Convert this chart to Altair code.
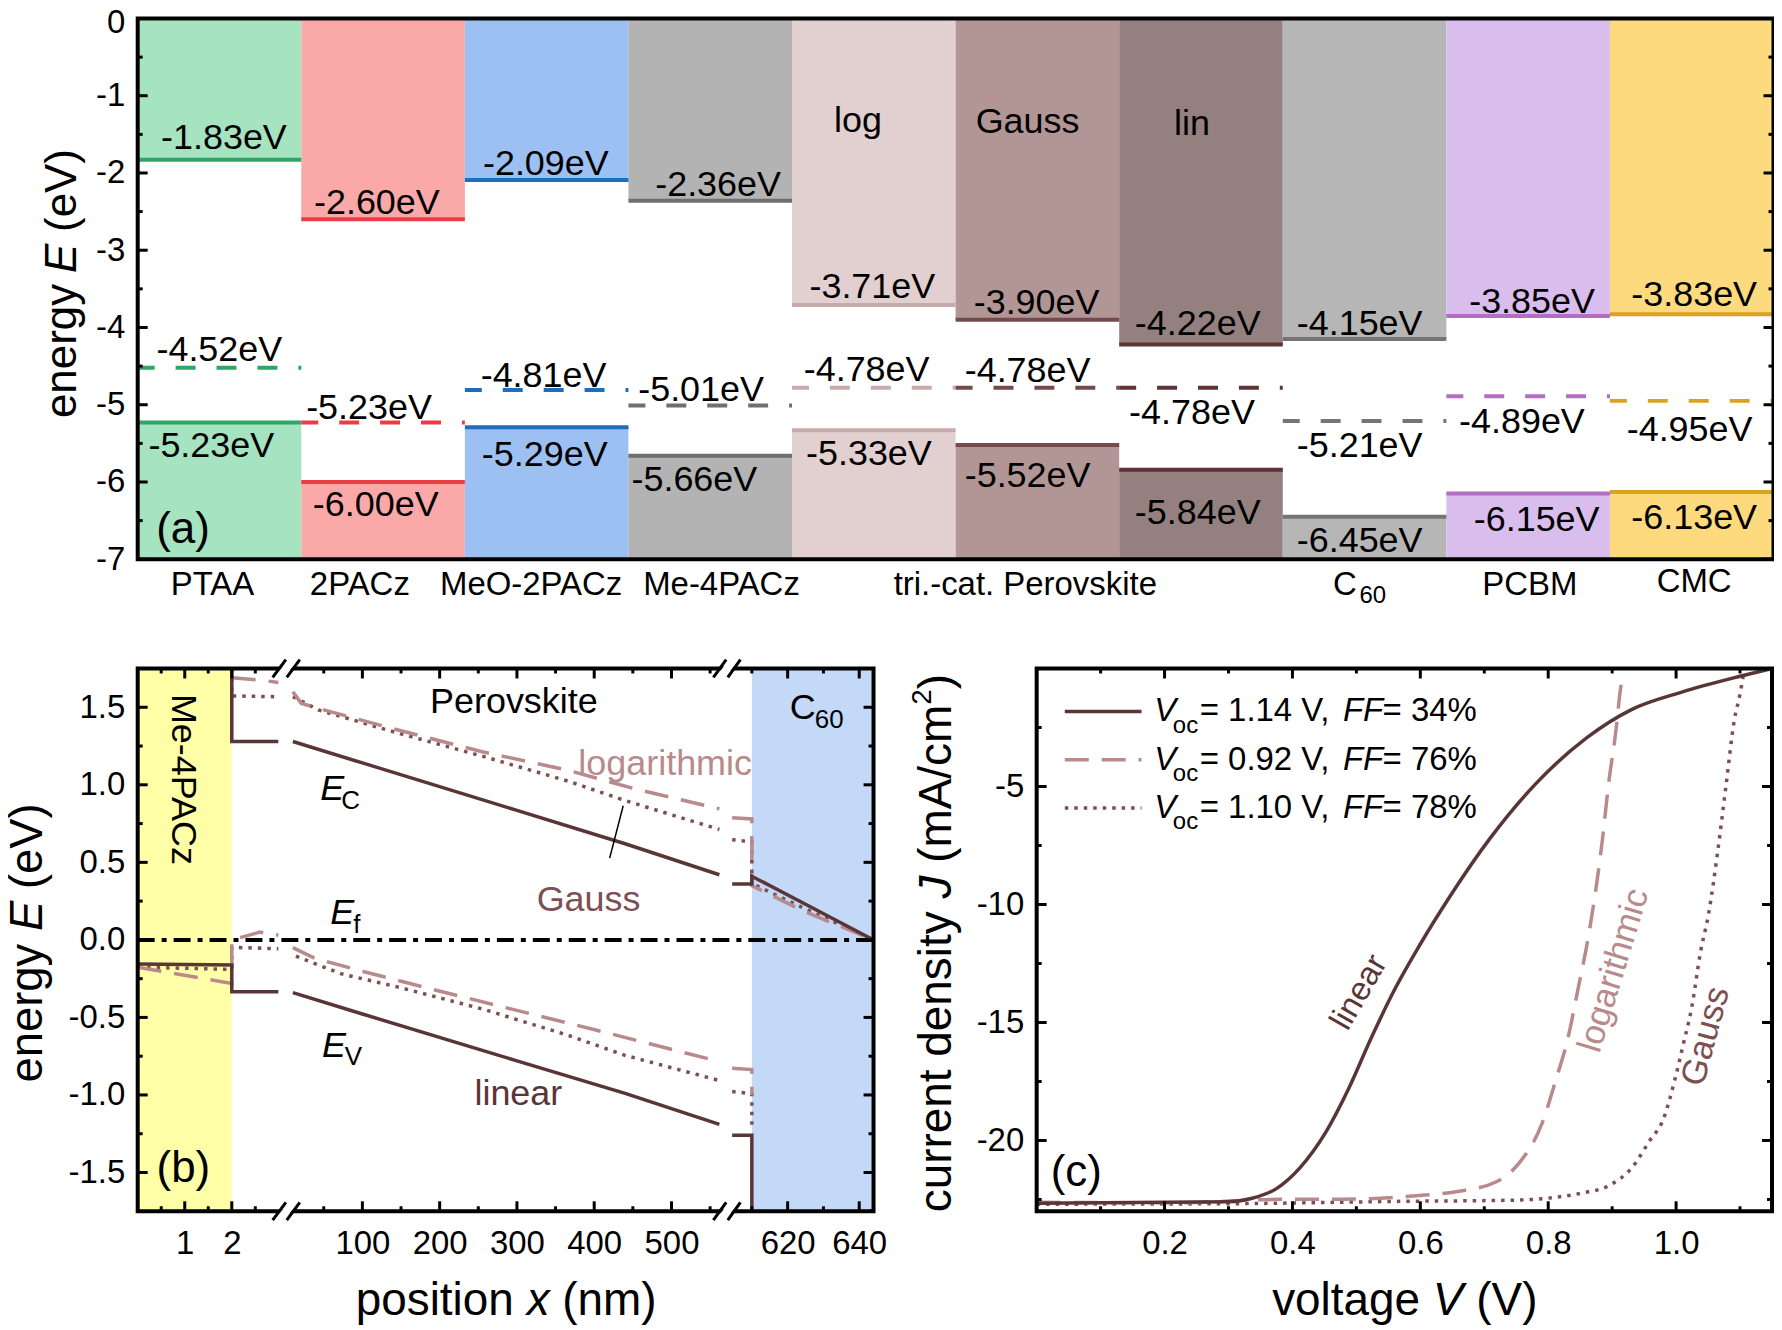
import altair as alt
import pandas as pd

FONT = "Liberation Sans"

# ---------- panel (a) data ----------
MATERIALS = ["PTAA", "2PACz", "MeO-2PACz", "Me-4PACz", "log", "Gauss", "lin", "C60", "PCBM", "CMC"]
LUMO = [-1.83, -2.60, -2.09, -2.36, -3.71, -3.90, -4.22, -4.15, -3.85, -3.83]
FERMI = [-4.52, -5.23, -4.81, -5.01, -4.78, -4.78, -4.78, -5.21, -4.89, -4.95]
HOMO = [-5.23, -6.00, -5.29, -5.66, -5.33, -5.52, -5.84, -6.45, -6.15, -6.13]
FILL = ["#a6e3c0", "#faa8a8", "#9bc0f1", "#b3b3b3", "#e2d0d1", "#b29696", "#958080", "#b6b6b6", "#d9bded", "#fdda7e"]
LINE = ["#2fa566", "#ee3c44", "#1f6dbd", "#6f6f6f", "#c8aaad", "#744a4c", "#5c3436", "#757575", "#b26fc2", "#d9a21f"]

L_X = [.527, 1.462, 2.495, 3.548, 4.491, 5.495, 6.480, 7.470, 8.524, 9.515]
L_Y = [-1.542, -2.394, -1.880, -2.159, -3.480, -3.686, -3.950, -3.950, -3.671, -3.583]
F_X = [.499, 1.414, 2.481, 3.444, 4.456, 5.440, 6.445, 7.470, 8.462, 9.487]
F_Y = [-4.288, -5.037, -4.626, -4.816, -4.552, -4.567, -5.110, -5.536, -5.228, -5.330]
H_X = [.450, 1.455, 2.488, 3.403, 4.470, 5.440, 6.480, 7.470, 8.552, 9.515]
H_Y = [-5.536, -6.300, -5.653, -5.976, -5.639, -5.918, -6.402, -6.770, -6.490, -6.461]

CAT_TEXT = ["PTAA", "2PACz", "MeO-2PACz", "Me-4PACz", "tri.-cat. Perovskite", "C", "PCBM", "CMC"]
CAT_X = [.457, 1.358, 2.405, 3.569, 5.426, 7.38, 8.51, 9.515]
CAT_Y = [-7.33, -7.33, -7.33, -7.33, -7.33, -7.33, -7.33, -7.30]

# ---------- panel (b) data: [(x nm, E eV) ...] by continuous piece ----------
EC_LIN = [[(2, 1.75), (2, 1.28), (2.99, 1.28)],
          [(10, 1.279), (100, 1.141), (300, .835), (440, .62), (562, .42)],
          [(604.5, .36), (610, .36), (610, .41), (625, .23), (644, 0)]]
EV_LIN = [[(0, -.156), (2, -.162), (2, -.335), (2.99, -.335)],
          [(10, -.34), (100, -.478), (300, -.78), (440, -.99), (562, -1.19)],
          [(604.5, -1.26), (610, -1.26), (610, -1.75)]]
EC_LOG = [[(2, 1.69), (2.6, 1.676), (2.99, 1.66)],
          [(10, 1.60), (21, 1.525), (50, 1.483), (145, 1.355), (255, 1.213), (366, 1.094), (454, .972), (562, .845)],
          [(604.5, .788), (610, .78), (610, .349), (625, .18), (644, 0)]]
EV_LOG = [[(0, -.176), (2, -.281), (2, 0.0), (2.6, .05), (2.99, .03)],
          [(10, -.05), (39, -.12), (101, -.204), (190, -.318), (292, -.445), (402, -.581), (562, -.785)],
          [(604.5, -.828), (610, -.836), (610, -1.0)]]
EC_GAU = [[(2, 1.75), (2, 1.573), (2.99, 1.568)],
          [(10, 1.568), (21, 1.54), (43, 1.483), (145, 1.335), (255, 1.185), (366, 1.024), (439, .90), (562, .712)],
          [(604.5, .646), (610, .632), (610, .363), (625, .2), (644, 0)]]
EV_GAU = [[(0, -.176), (2, -.19), (2, -.048), (2.99, -.057)],
          [(14, -.105), (72, -.218), (145, -.303), (255, -.445), (366, -.615), (439, -.743), (562, -.907)],
          [(604.5, -.978), (610, -.992), (610, -1.21)]]
EF_LINE = [(0, 0), (644, 0)]
POINTER = [(437.5, .865), (420, .527)]

# breaks of the x axis: x, x2 in nm, at top and bottom of the frame
BREAK_BLACK = [(2.87, 4.94), (5.18, 19.0), (554.2, 584.6), (590, 606.8)]
BREAK_WHITE = [(3.1, 10.6), (565.5, 605)]

# ---------- panel (c) data ----------
JV_LIN_V = [0, .30, .337, .375, .412, .452, .488, .523, .558, .598, .647, .709, .78, .86, .931, 1.01, 1.10, 1.15]
JV_LIN_J = [-22.66, -22.6, -22.45, -22.04, -21.15, -19.66, -17.8, -15.67, -13.7, -11.77, -9.63, -7.2, -4.9, -2.94, -1.73, -.99, -.33, 0]
JV_LOG_V = [0, .213, .39, .479, .594, .656, .719, .754, .79, .812, .83, .847, .862, .877, .885, .894, .907, .912, .918]
JV_LOG_J = [-22.62, -22.64, -22.49, -22.49, -22.34, -22.17, -21.75, -20.97, -19.3, -17.43, -15.76, -13.53, -11.49, -8.88, -7.2, -4.98, -2.38, -1.08, -.15]
JV_GAU_V = [0, .30, .568, .745, .798, .852, .896, .931, .958, .98, .998, 1.011, 1.025, 1.038, 1.051, 1.065, 1.078, 1.091, 1.1, 1.106]
JV_GAU_J = [-22.7, -22.68, -22.58, -22.53, -22.45, -22.23, -21.9, -21.15, -20.04, -19.1, -17.43, -15.95, -14.28, -12.04, -10.37, -7.77, -4.98, -2.19, -1.08, -.15]
LEG_VOC = ["= 1.14 V,", "= 0.92 V,", "= 1.10 V,"]
LEG_FF = ["= 34%", "= 76%", "= 78%"]
LEG_J = [-1.82, -3.87, -5.91]

C_LIN, C_LOG, C_GAU = "#5a3537", "#b88a8b", "#7c5052"
DASH, DOT = [24, 13], [3.5, 6]

W_A, H_A = 1639.5, 542
W_B, H_B = 737.5, 544
W_C, H_C = 737, 544

AX = {}


def ax(scale):
    return AX.get(id(scale))


def tx(x, y, text, xs, ys, size=36, color="black", italic=False, align="center", angle=None):
    kw = dict(font=FONT, fontSize=size, color=color, align=align, baseline="middle")
    if italic:
        kw["fontStyle"] = "italic"
    if angle is not None:
        kw["angle"] = angle
    return alt.Chart(pd.DataFrame({"x": x, "y": y, "t": text})).mark_text(**kw).encode(
        x=alt.X("x:Q", scale=xs, axis=ax(xs)), y=alt.Y("y:Q", scale=ys, axis=ax(ys)), text="t:N")


def px(x, y, text, size=46, italic=False, angle=None, align="left"):
    kw = dict(font=FONT, fontSize=size, color="black", align=align, baseline="middle")
    if italic:
        kw["fontStyle"] = "italic"
    if angle is not None:
        kw["angle"] = angle
    return alt.Chart(pd.DataFrame({"t": [text]})).mark_text(**kw).encode(
        x=alt.value(x), y=alt.value(y), text="t:N")


def ticks(values, major, side, scale, W, H, mj=10, mn=5):
    d = pd.DataFrame({"v": values, "major": major})
    out = []
    for m, ln in ((True, mj), (False, mn)):
        dd = d[d.major == m]
        if dd.empty:
            continue
        mk = alt.Chart(dd).mark_rule(color="black", strokeWidth=3)
        if side == "left":
            e = dict(y=alt.Y("v:Q", scale=scale, axis=ax(scale)), x=alt.value(0), x2=alt.value(ln))
        elif side == "right":
            e = dict(y=alt.Y("v:Q", scale=scale, axis=ax(scale)), x=alt.value(W), x2=alt.value(W - ln))
        elif side == "bottom":
            e = dict(x=alt.X("v:Q", scale=scale, axis=ax(scale)), y=alt.value(H), y2=alt.value(H - ln))
        else:
            e = dict(x=alt.X("v:Q", scale=scale, axis=ax(scale)), y=alt.value(0), y2=alt.value(ln))
        out.append(mk.encode(**e))
    return out


def frame(W, H):
    return alt.Chart(pd.DataFrame({"a": [0]})).mark_rect(filled=False, stroke="black", strokeWidth=4).encode(
        x=alt.value(0), x2=alt.value(W), y=alt.value(0), y2=alt.value(H))


def axis(values, fmt, pad, **extra):
    return alt.Axis(values=values, format=fmt, title=None, ticks=False, domain=False, grid=False,
                    labelFont=FONT, labelFontSize=33, labelColor="black", labelPadding=pad,
                    labelOverlap=False, labelFlush=False, labelBound=False,
                    labelExpr="replace(datum.label, '\u2212', '-')", **extra)


def pieces(data, xs, ys, color, dash, width=3.5):
    rows = [{"x": p[0], "y": p[1], "s": i, "o": j} for i, seg in enumerate(data) for j, p in enumerate(seg)]
    kw = dict(color=color, strokeWidth=width, clip=True)
    if dash:
        kw["strokeDash"] = dash
    return alt.Chart(pd.DataFrame(rows)).mark_line(**kw).encode(
        x=alt.X("x:Q", scale=xs, axis=ax(xs)), y=alt.Y("y:Q", scale=ys, axis=ax(ys)),
        detail="s:N", order="o:Q")


# ---------- panel (a) ----------
xa = alt.Scale(domain=[0, 10], nice=False, zero=False)
ya = alt.Scale(domain=[-7, 0], nice=False, zero=False)
AX[id(ya)] = axis(list(range(-7, 1)), "d", 13,
                  labelOffset={"condition": {"test": "datum.value == 0", "value": 4}, "value": 0})
a_df = pd.DataFrame({"m": MATERIALS, "x0": range(10), "x1": range(1, 11), "L": LUMO, "F": FERMI,
                     "H": HOMO, "fill": FILL, "line": LINE, "top": [0] * 10, "bot": [-7] * 10})
a_base = alt.Chart(a_df)
X0 = alt.X("x0:Q", scale=xa, axis=None)
a_layers = [
    a_base.mark_rect().encode(x=X0, x2="x1:Q", y=alt.Y("top:Q", scale=ya, axis=ax(ya)),
                              y2="L:Q", color=alt.Color("fill:N", scale=None)),
    a_base.mark_rect().encode(x=X0, x2="x1:Q", y=alt.Y("H:Q", scale=ya, axis=ax(ya)), y2="bot:Q",
                              color=alt.Color("fill:N", scale=None)),
]
for key in ("L", "H"):
    a_layers.append(a_base.mark_rule(strokeWidth=4).encode(
        x=X0, x2="x1:Q", y=alt.Y(f"{key}:Q", scale=ya, axis=ax(ya)), color=alt.Color("line:N", scale=None)))
a_layers.append(a_base.mark_rule(strokeWidth=4, strokeDash=[20, 21], strokeDashOffset=3).encode(
    x=X0, x2="x1:Q", y=alt.Y("F:Q", scale=ya, axis=ax(ya)), color=alt.Color("line:N", scale=None)))
fmt_ev = lambda v: [f"{e:.2f}eV" for e in v]
a_layers += [
    tx(L_X, L_Y, fmt_ev(LUMO), xa, ya),
    tx(F_X, F_Y, fmt_ev(FERMI), xa, ya),
    tx(H_X, H_Y, fmt_ev(HOMO), xa, ya),
    tx([4.403, 5.440, 6.445], [-1.322, -1.336, -1.366], ["log", "Gauss", "lin"], xa, ya, size=36),
    tx([.277], [-6.62], ["(a)"], xa, ya, size=44),
    tx(CAT_X, CAT_Y, CAT_TEXT, xa, ya, size=33),
    tx([7.55], [-7.47], ["60"], xa, ya, size=24),
]
a_layers += ticks([-v / 2 for v in range(15)], [v % 2 == 0 for v in range(15)], "left", ya, W_A, H_A)
a_layers += ticks([-v / 2 for v in range(15)], [v % 2 == 0 for v in range(15)], "right", ya, W_A, H_A)
a_layers += [frame(W_A, H_A),
             px(-75, 400.5, "energy", 44, angle=270),
             px(-75, 255, "E", 44, True, 270),
             px(-75, 214, "(eV)", 44, angle=270)]
chart_a = alt.layer(*a_layers).properties(width=W_A, height=H_A)

# ---------- panel (b) ----------
xb = alt.Scale(domain=[0, 2, 3, 6, 562, 604.5, 644], range=[0, 94.3, 141.4, 152.4, 583, 595.8, 737.5],
               nice=False, zero=False)
yb = alt.Scale(domain=[-1.75, 1.75], nice=False, zero=False)
xtick_major = [1, 2, 100, 200, 300, 400, 500, 620, 640]
xtick_minor = [.5, 1.5, 2.5, 50, 150, 250, 350, 450, 550, 610, 630]
AX[id(xb)] = axis(xtick_major, "d", 16)
AX[id(yb)] = axis([-1.5, -1, -.5, 0, .5, 1, 1.5], ".1f", 13)
regions = pd.DataFrame({"x0": [0, 610], "x1": [2, 644], "y0": [-1.75, -1.75], "y1": [1.75, 1.75],
                        "c": ["#ffffa8", "#c3d9f7"]})
ef_df = pd.DataFrame({"x": [p[0] for p in EF_LINE], "y": [p[1] for p in EF_LINE]})
ptr_df = pd.DataFrame({"x": [p[0] for p in POINTER], "y": [p[1] for p in POINTER], "o": [0, 1]})
ytick_b = [-1.75 + .25 * i for i in range(15)]
ytick_b_major = [round(v * 2) == v * 2 for v in ytick_b]
b_layers = [
    alt.Chart(regions).mark_rect().encode(
        x=alt.X("x0:Q", scale=xb, axis=ax(xb)), x2="x1:Q",
        y=alt.Y("y0:Q", scale=yb, axis=ax(yb)), y2="y1:Q",
        color=alt.Color("c:N", scale=None)),
    alt.Chart(ef_df).mark_line(color="black", strokeWidth=4, strokeDash=[17, 7, 5, 7]).encode(
        x=alt.X("x:Q", scale=xb, axis=ax(xb)), y=alt.Y("y:Q", scale=yb, axis=ax(yb))),
    pieces(EC_GAU, xb, yb, C_GAU, DOT), pieces(EV_GAU, xb, yb, C_GAU, DOT),
    pieces(EC_LOG, xb, yb, C_LOG, DASH), pieces(EV_LOG, xb, yb, C_LOG, DASH),
    pieces(EC_LIN, xb, yb, C_LIN, None), pieces(EV_LIN, xb, yb, C_LIN, None),
    alt.Chart(ptr_df).mark_line(color="black", strokeWidth=1.5).encode(
        x=alt.X("x:Q", scale=xb, axis=ax(xb)), y=alt.Y("y:Q", scale=yb, axis=ax(yb)), order="o:Q"),
    tx([.965], [1.035], ["Me-4PACz"], xb, yb, angle=90),
    tx([296], [1.531], ["Perovskite"], xb, yb),
    tx([624.2], [1.497], ["C"], xb, yb),
    tx([631.6], [1.418], ["60"], xb, yb, size=26),
    tx([491.8], [1.137], ["logarithmic"], xb, yb, color=C_LOG),
    tx([392.7], [.258], ["Gauss"], xb, yb, color=C_GAU),
    tx([301.8], [-.992], ["linear"], xb, yb, color=C_LIN),
    tx([61, 74, 63.3], [.973, .173, -.686], ["E", "E", "E"], xb, yb, italic=True),
    tx([84.6, 92.7, 88.3], [.893, .094, -.757], ["C", "f", "V"], xb, yb, size=26),
    tx([.97], [-1.48], ["(b)"], xb, yb, size=44),
]
b_layers += ticks(ytick_b, ytick_b_major, "left", yb, W_B, H_B)
b_layers += ticks(ytick_b, ytick_b_major, "right", yb, W_B, H_B)
for side in ("bottom", "top"):
    b_layers += ticks(xtick_major + xtick_minor, [True] * len(xtick_major) + [False] * len(xtick_minor),
                      side, xb, W_B, H_B)
b_layers.append(frame(W_B, H_B))
for ycen in (1.75, -1.75):
    white = pd.DataFrame({"x": [p[0] for p in BREAK_WHITE], "x2": [p[1] for p in BREAK_WHITE],
                          "y": [ycen - .057] * 2, "y2": [ycen + .057] * 2})
    black = pd.DataFrame({"x": [p[0] for p in BREAK_BLACK], "x2": [p[1] for p in BREAK_BLACK],
                          "y": [ycen - .057] * 4, "y2": [ycen + .057] * 4})
    b_layers.append(alt.Chart(white).mark_rule(color="white", strokeWidth=8).encode(
        x=alt.X("x:Q", scale=xb, axis=ax(xb)), x2="x2:Q", y=alt.Y("y:Q", scale=yb, axis=ax(yb)), y2="y2:Q"))
    b_layers.append(alt.Chart(black).mark_rule(color="black", strokeWidth=3).encode(
        x=alt.X("x:Q", scale=xb, axis=ax(xb)), x2="x2:Q", y=alt.Y("y:Q", scale=yb, axis=ax(yb)), y2="y2:Q"))
b_layers += [px(-110, 415, "energy", 45.5, angle=270),
             px(-110, 263, "E", 45.5, True, 270),
             px(-110, 221, "(eV)", 45.5, angle=270),
             px(218.5, 634, "position", 46),
             px(389.8, 634, "x", 46, True),
             px(425.5, 634, "(nm)", 46)]
chart_b = alt.layer(*b_layers).properties(width=W_B, height=H_B)

# ---------- panel (c) ----------
xc = alt.Scale(domain=[0, 1.15], nice=False, zero=False)
yc = alt.Scale(domain=[-23, 0], nice=False, zero=False)
AX[id(xc)] = axis([.2, .4, .6, .8, 1.0], ".1f", 16)
AX[id(yc)] = axis([-20, -15, -10, -5], "d", 13)


def jv(vs, js, color, dash):
    kw = dict(color=color, strokeWidth=3.5, clip=True, interpolate="monotone")
    if dash:
        kw["strokeDash"] = dash
    return alt.Chart(pd.DataFrame({"v": vs, "j": js, "o": range(len(vs))})).mark_line(**kw).encode(
        x=alt.X("v:Q", scale=xc, axis=ax(xc)), y=alt.Y("j:Q", scale=yc, axis=ax(yc)), order="o:Q")


def legend_sample(j, color, dash):
    kw = dict(color=color, strokeWidth=3.5)
    if dash:
        kw["strokeDash"] = dash
    return alt.Chart(pd.DataFrame({"v": [.044, .164], "j": [j, j]})).mark_line(**kw).encode(
        x=alt.X("v:Q", scale=xc, axis=ax(xc)), y=alt.Y("j:Q", scale=yc, axis=ax(yc)))


c_layers = [jv(JV_GAU_V, JV_GAU_J, C_GAU, DOT), jv(JV_LOG_V, JV_LOG_J, C_LOG, DASH),
            jv(JV_LIN_V, JV_LIN_J, C_LIN, None)]
for j, col, dash in zip(LEG_J, (C_LIN, C_LOG, C_GAU), (None, DASH, DOT)):
    c_layers.append(legend_sample(j, col, dash))
n = len(LEG_J)
c_layers += [
    tx([.184] * n, LEG_J, ["V"] * n, xc, yc, size=33, italic=True, align="left"),
    tx([.213] * n, [j - .6 for j in LEG_J], ["oc"] * n, xc, yc, size=24, align="left"),
    tx([.255] * n, LEG_J, LEG_VOC, xc, yc, size=33, align="left"),
    tx([.479] * n, LEG_J, ["FF"] * n, xc, yc, size=33, italic=True, align="left"),
    tx([.541] * n, LEG_J, LEG_FF, xc, yc, size=33, align="left"),
    tx([.504], [-13.72], ["linear"], xc, yc, size=33, color=C_LIN, angle=300),
    tx([.902], [-12.79], ["logarithmic"], xc, yc, size=35, color=C_LOG, angle=287),
    tx([1.046], [-15.58], ["Gauss"], xc, yc, size=35, color=C_GAU, angle=285),
    tx([.062], [-21.37], ["(c)"], xc, yc, size=44),
]
ytick_c = [-2.5 * i for i in range(1, 10)]
ytick_c_major = [i % 2 == 0 for i in range(1, 10)]
xtick_c = [.1 * i for i in range(1, 12)]
xtick_c_major = [i % 2 == 0 for i in range(1, 12)]
c_layers += ticks(ytick_c, ytick_c_major, "left", yc, W_C, H_C)
c_layers += ticks(ytick_c, ytick_c_major, "right", yc, W_C, H_C)
c_layers += ticks(xtick_c, xtick_c_major, "bottom", xc, W_C, H_C)
c_layers += ticks(xtick_c, xtick_c_major, "top", xc, W_C, H_C)
c_layers += [frame(W_C, H_C),
             px(-100, 545, "current density", 46, angle=270),
             px(-100, 230.5, "J", 46, True, 270),
             px(-100, 194.7, "(mA/cm", 46, angle=270),
             px(-114, 36.4, "2", 28, angle=270),
             px(-100, 20.8, ")", 46, angle=270),
             px(236, 634, "voltage", 46),
             px(397, 634, "V", 46, True),
             px(440.6, 634, "(V)", 46)]
chart_c = alt.layer(*c_layers).properties(width=W_C, height=H_C)

row = alt.hconcat(chart_b, chart_c, spacing=163, bounds="flush")
chart = alt.vconcat(chart_a, row, spacing=109.5, bounds="flush").properties(
    padding={"left": -2, "top": -3, "right": -2, "bottom": 0}, background="white"
).configure_view(stroke=None)
chart.save("out.html", embed_options={"renderer": "svg", "actions": False})
